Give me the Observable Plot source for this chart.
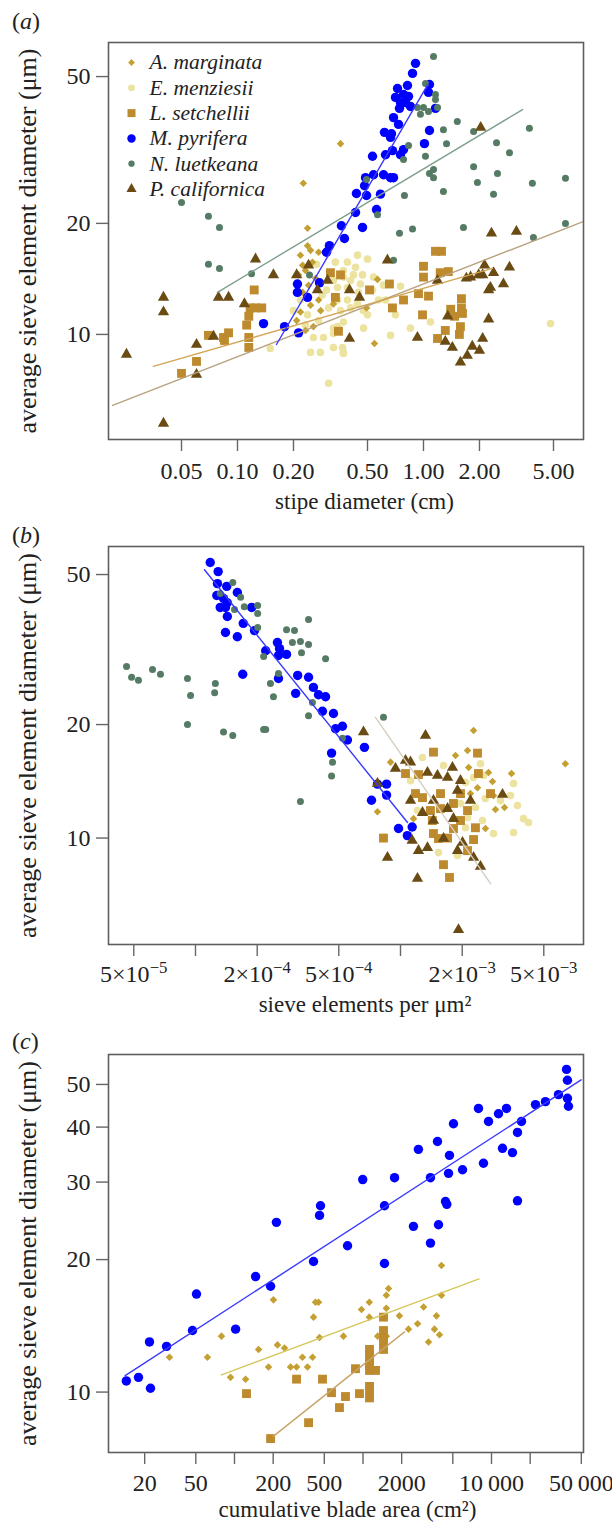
<!DOCTYPE html>
<html><head><meta charset="utf-8">
<script src="https://cdn.jsdelivr.net/npm/d3@7"></script>
<script src="https://cdn.jsdelivr.net/npm/@observablehq/plot@0.6"></script>
<style>
body{margin:0;background:#fff}
#wrap{position:relative;width:612px;height:1523px;font-family:"Liberation Serif","Times New Roman",serif;color:#222}
#wrap svg{position:absolute;left:0}
.plab{position:absolute;left:12px;font-size:24px;line-height:24px;white-space:nowrap}
</style></head><body><div id="wrap"></div>
<script>
// ---------- species ----------
const species = ["A. marginata","E. menziesii","L. setchellii","M. pyrifera","N. luetkeana","P. californica"];
const speciesColor = ["#c4a032","#ece3a0","#bd8a2e","#0000ff","#567b65","#6a4b13"];
const speciesSymbol = ["diamond2","circle","square","circle","circle","triangle"];
const speciesR = [3.4, 3.8, 5.0, 4.7, 3.5, 4.2];

// ---------- panel (a): stipe diameter (cm) vs sieve element diameter (um) ----------
const A_Amarginata = [[0.358,32.9],[0.226,25.7],[0.238,19.4],[0.238,17.4],[0.247,16.9],[0.218,16.4],[0.253,15.7],[0.232,14.9],[0.213,14.5],[0.263,14.2],[0.241,13.6],[0.224,13.0],[0.273,12.4],[0.247,12.0],[0.218,11.5],[0.256,10.5],[0.232,10.25],[0.280,11.6],[0.566,14.1],[0.494,11.8],[0.545,9.45],[0.328,12.1],[0.208,10.9],[0.224,15.4],[0.273,16.7]];
const A_Emenziesii = [[0.336,15.7],[0.390,15.7],[0.442,16.4],[0.371,14.9],[0.420,14.5],[0.328,14.0],[0.390,13.4],[0.458,13.7],[0.345,12.4],[0.309,11.8],[0.358,11.6],[0.405,11.8],[0.256,9.81],[0.290,9.81],[0.328,10.06],[0.247,8.94],[0.279,8.94],[0.328,9.22],[0.371,8.94],[0.150,9.16],[0.20,11.6],[0.238,11.3],[0.309,7.37],[0.50,16.0],[0.431,15.2],[0.470,14.5],[0.539,14.3],[0.610,13.6],[0.752,13.5],[0.371,14.3],[0.405,14.0],[0.345,13.4],[0.390,12.4],[0.442,12.1],[0.476,11.6],[0.50,11.3],[0.573,12.4],[0.345,10.5],[0.371,10.8],[0.328,10.4],[0.476,10.4],[0.665,9.94],[0.851,10.4],[1.09,10.8],[0.367,9.22],[0.371,8.88],[4.82,10.7],[0.266,15.5],[0.286,12.8],[0.218,12.4],[0.273,10.9],[0.301,13.2],[0.447,13.0],[0.532,13.2],[0.625,12.4],[0.707,11.3],[0.232,10.6]];
const A_Lsetchellii = [[0.050,7.84],[0.0602,8.45],[0.0698,9.94],[0.0841,9.81],[0.0895,10.1],[0.0851,9.63],[0.115,9.81],[0.115,9.22],[0.112,10.6],[0.115,11.2],[0.117,11.8],[0.125,11.8],[0.135,11.8],[0.123,13.2],[0.316,14.7],[0.358,14.5],[0.336,12.6],[0.349,10.2],[0.513,13.2],[0.656,13.7],[0.781,12.4],[0.681,11.8],[1.0,15.3],[1.0,14.3],[0.94,12.9],[1.064,12.7],[0.988,11.3],[1.16,16.8],[1.25,16.8],[1.23,14.7],[1.36,14.8],[1.60,12.5],[1.60,11.8],[1.40,11.7],[1.47,11.2],[1.62,11.4],[1.58,10.5],[1.31,10.25],[1.56,10.0],[1.19,9.75]];
const A_Mpyrifera = [[0.906,54.3],[0.873,51.0],[0.725,46.4],[0.820,47.3],[1.077,47.6],[1.064,45.3],[0.707,43.9],[0.781,44.7],[0.831,44.2],[0.752,42.5],[0.800,42.5],[0.851,41.5],[0.743,41.0],[1.16,41.0],[0.690,38.7],[0.734,37.1],[0.617,35.3],[0.673,35.0],[0.665,34.2],[1.077,35.7],[1.012,32.9],[0.532,30.4],[0.625,30.7],[0.681,31.5],[0.752,30.7],[0.781,31.7],[0.488,26.6],[0.539,27.1],[0.610,27.1],[0.665,26.6],[0.690,26.6],[0.482,25.3],[0.436,24.1],[0.494,23.8],[0.587,24.0],[0.559,21.8],[0.431,21.4],[0.362,19.7],[0.470,19.5],[0.376,18.2],[0.312,17.4],[0.301,16.7],[0.210,13.7],[0.210,13.0],[0.238,12.6],[0.276,13.8],[0.138,10.7],[0.179,10.5],[0.213,10.1]];
const A_Nluetkeana = [[1.132,56.7],[1.025,47.9],[1.160,44.7],[1.160,43.3],[0.928,41.2],[1.0,41.2],[1.064,40.2],[1.19,41.2],[0.963,39.5],[1.52,37.8],[1.28,35.9],[1.86,35.5],[1.33,32.9],[2.47,33.1],[2.90,31.1],[3.71,36.2],[0.831,32.5],[0.781,29.8],[1.025,30.4],[1.86,28.5],[2.50,27.3],[3.85,25.7],[5.80,26.5],[1.132,28.0],[1.077,27.3],[1.132,26.6],[1.95,25.8],[1.28,24.4],[2.38,24.0],[0.79,23.8],[0.566,21.1],[0.494,26.3],[5.80,20.0],[0.873,19.3],[1.64,19.5],[0.743,18.8],[3.90,18.3],[0.690,15.9],[0.050,22.8],[0.0698,20.9],[0.080,19.5],[0.0698,15.5],[0.080,15.1],[0.119,14.6],[0.244,14.5]];
const A_Pcalifornica = [[0.0253,8.83],[0.040,12.6],[0.040,11.5],[0.040,5.74],[0.0602,9.39],[0.0602,7.79],[0.0743,9.88],[0.079,12.6],[0.0895,12.6],[0.109,12.1],[0.125,16.0],[0.156,14.5],[0.208,14.5],[0.241,15.4],[0.269,13.2],[0.305,14.0],[0.400,13.2],[0.453,12.6],[0.400,9.75],[0.640,15.9],[0.928,9.81],[1.19,14.0],[1.35,11.2],[1.31,9.57],[1.43,9.22],[1.58,8.40],[1.72,8.77],[1.83,9.28],[2.0,9.05],[2.08,9.75],[2.24,11.0],[1.70,14.2],[1.79,14.3],[1.98,14.5],[2.08,14.5],[2.13,15.4],[2.38,14.7],[2.24,13.2],[2.29,13.4],[2.69,13.7],[2.90,15.2],[2.32,18.8],[3.16,19.0],[2.03,36.4]];
const A_fitMpyrifera = [[0.162,9.39],[1.064,47.9]];
const A_fitNluetkeana = [[0.078,13.0],[3.41,40.7]];
const A_fitLsetchellii = [[0.0353,8.19],[2.35,15.1]];
const A_fitPcalifornica = [[0.0213,6.42],[7.16,20.2]];
const A_xTicks = [0.05,0.1,0.2,0.5,1,2,5];
const A_xTickLabels = ["0.05","0.10","0.20","0.50","1.00","2.00","5.00"];
const A_yTicks = [10,20,50];

// ---------- panel (b): sieve elements per um^2 ----------
const B_Amarginata = [[2.272e-3,19.3],[2.123e-3,17.06],[1.855e-3,16.55],[0.894e-3,15.9],[2.15e-3,15.38],[2.686e-3,14.93],[3.48e-3,14.83],[2.81e-3,14.12],[2.375e-3,13.6],[2.842e-3,12.96],[2.194e-3,13.12],[2.906e-3,11.9],[3.216e-3,12.05],[2.596e-3,10.6],[0.772e-3,11.75],[6.37e-3,15.75],[1.157e-3,11.26]];
const B_Emenziesii = [[1.28e-3,16.35],[1.621e-3,15.57],[2.456e-3,15.75],[2.54e-3,14.65],[2.076e-3,14.05],[2.272e-3,14.47],[3.56e-3,13.95],[3.44e-3,12.96],[3.72e-3,12.2],[2.596e-3,12.73],[3.075e-3,12.57],[2.32e-3,12.05],[2.123e-3,11.33],[2.51e-3,11.13],[2.842e-3,10.28],[3.56e-3,10.34],[3.98e-3,11.26],[4.21e-3,10.99],[2.076e-3,10.65],[1.532e-3,9.15],[1.897e-3,8.99],[1.21e-3,11.83],[1.119e-3,14.2],[1.962e-3,12.35]];
const B_Lsetchellii = [[1.448e-3,16.9],[2.375e-3,16.8],[1.058e-3,14.83],[1.224e-3,14.74],[2.40e-3,14.83],[1.183e-3,13.12],[1.28e-3,12.8],[1.567e-3,13.12],[1.962e-3,13.12],[2.748e-3,13.12],[1.40e-3,11.83],[1.567e-3,11.97],[1.813e-3,12.35],[2.123e-3,11.83],[1.962e-3,11.13],[2.32e-3,10.65],[1.813e-3,10.6],[1.448e-3,10.28],[1.532e-3,9.97],[1.696e-3,10.0],[2.272e-3,9.91],[0.826e-3,10.0],[1.621e-3,8.50],[1.734e-3,7.86],[2.123e-3,9.26],[1.43e-3,11.13]];
const B_Mpyrifera = [[1.18e-4,53.8],[1.29e-4,50.9],[1.28e-4,47.3],[1.42e-4,46.5],[1.60e-4,44.8],[1.27e-4,44.0],[1.37e-4,43.2],[1.43e-4,42.1],[1.32e-4,40.9],[1.40e-4,40.9],[1.88e-4,40.9],[1.43e-4,38.7],[1.71e-4,37.1],[1.94e-4,35.5],[1.40e-4,35.1],[1.60e-4,34.2],[2.51e-4,33.0],[2.20e-4,31.4],[2.57e-4,31.8],[2.78e-4,30.7],[2.54e-4,30.5],[1.70e-4,27.2],[2.54e-4,26.5],[3.15e-4,27.0],[3.56e-4,26.7],[3.76e-4,25.1],[3.08e-4,24.2],[3.98e-4,24.0],[4.31e-4,23.7],[4.16e-4,21.7],[4.71e-4,21.4],[5.21e-4,19.8],[4.82e-4,19.5],[5.51e-4,18.2],[4.61e-4,16.8],[6.67e-4,17.4],[7.72e-4,13.9],[8.55e-4,13.9],[7.22e-4,12.6],[8.55e-4,13.0],[9.78e-4,10.6],[1.14e-3,10.7],[1.08e-3,10.15]];
const B_Nluetkeana = [[4.61e-5,28.5],[4.88e-5,26.7],[5.27e-5,26.2],[6.17e-5,28.0],[6.75e-5,27.2],[9.14e-5,26.5],[9.46e-5,23.9],[1.25e-4,25.7],[1.24e-4,24.3],[9.14e-5,20.0],[1.37e-4,19.1],[1.52e-4,18.7],[2.15e-4,19.4],[2.20e-4,19.4],[1.52e-4,47.6],[1.32e-4,44.5],[1.66e-4,43.5],[1.55e-4,40.4],[1.73e-4,41.1],[2.01e-4,41.4],[2.01e-4,39.4],[2.01e-4,36.2],[2.78e-4,35.7],[3.04e-4,35.5],[2.97e-4,33.0],[3.25e-4,33.2],[3.56e-4,32.6],[3.29e-4,31.0],[3.56e-4,38.0],[4.31e-4,29.9],[2.15e-4,30.3],[2.54e-4,27.3],[2.32e-4,25.7],[2.40e-4,23.7],[3.56e-4,21.1],[3.72e-4,22.9],[5.21e-4,18.4],[4.66e-4,15.9],[4.61e-4,14.6],[3.25e-4,12.5],[8.26e-4,20.9]];
const B_Pcalifornica = [[0.66e-3,19.1],[1.324e-3,18.7],[1.058e-3,16.06],[1.119e-3,15.9],[0.945e-3,15.3],[1.354e-3,14.93],[1.515e-3,14.65],[1.793e-3,15.38],[1.696e-3,14.47],[1.962e-3,14.2],[1.897e-3,13.37],[1.119e-3,12.57],[1.448e-3,12.57],[2.194e-3,12.57],[3.145e-3,13.04],[1.28e-3,11.68],[1.448e-3,11.13],[1.813e-3,11.26],[1.696e-3,11.97],[1.14e-3,9.85],[1.224e-3,9.26],[1.354e-3,9.43],[1.621e-3,9.97],[1.897e-3,9.26],[2.007e-3,9.73],[2.272e-3,8.88],[2.456e-3,8.40],[0.864e-3,8.88],[1.21e-3,7.81],[1.918e-3,5.71],[0.772e-3,13.95]];
const B_fitMpyrifera = [[1.106e-4,51.5],[1.082e-3,11.0]];
const B_fitPcalifornica = [[7.55e-4,20.9],[2.75e-3,7.57]];
const B_xTicks = [5e-5,1e-4,2e-4,5e-4,1e-3,2e-3,5e-3];
const B_xTickLabels = ["5×10^−5","","2×10^−4","5×10^−4","","2×10^−3","5×10^−3"];
const B_yTicks = [10,20,50];

// ---------- panel (c): cumulative blade area (cm^2) ----------
const C_Amarginata = [[4080,19.4],[1580,17.2],[1520,16.6],[4080,16.6],[1120,16.0],[1920,14.9],[973,15.4],[1120,14.8],[1520,15.5],[2960,15.6],[3730,14.9],[2260,13.9],[2660,14.3],[3600,13.9],[3940,13.5],[3235,13.0],[1300,13.4],[1520,13.4],[705,13.4],[459,13.3],[412,14.8],[451,16.0],[427,16.0],[201,16.2],[216,12.8],[154,12.5],[245,12.6],[338,12.0],[273,11.4],[304,11.4],[370,11.4],[405,12.0],[184,11.4],[79.2,13.4],[93.1,10.8],[61.6,12.0],[31.2,12.0],[122,10.7]];
const C_Lsetchellii = [[1444,14.8],[1444,13.8],[1444,13.3],[1444,12.9],[1444,12.5],[1124,12.5],[1124,12.1],[1124,11.8],[1124,11.5],[1124,11.2],[1251,11.2],[874,11.3],[1124,10.3],[1124,10.1],[1124,9.7],[939,9.92],[656,9.22],[731,9.77],[569,9.97],[377,8.52],[484,10.7],[304,10.7],[124,9.92],[191,7.84]];
const C_Mpyrifera = [[38360,54.1],[39000,51.1],[33200,47.4],[39000,46.5],[39720,44.6],[26300,45.7],[22000,45.0],[17120,41.2],[15930,38.9],[14560,35.0],[12180,35.8],[13080,44.1],[11340,42.9],[9480,41.2],[7920,44.1],[8660,33.1],[15930,27.2],[5060,40.7],[5950,32.0],[4710,34.5],[4630,31.4],[3800,37.1],[3350,30.7],[4385,27.1],[4490,26.7],[3870,24.0],[3350,21.8],[2700,35.6],[2470,23.8],[1760,30.7],[1470,26.5],[1470,19.6],[995,30.4],[758,21.5],[467,26.5],[459,25.2],[412,19.8],[212,24.3],[146,18.3],[191,17.4],[50.6,16.7],[47.1,13.8],[102,13.9],[21.8,13.0],[29.6,12.7],[14.4,10.6],[17.9,10.8],[22.2,10.2]];
const C_fitMpyrifera = [[14.1,10.9],[49800,51.2]];
const C_fitAmarginata = [[79.1,10.94],[8007,18.08]];
const C_fitLsetchellii = [[200,7.93],[2107,13.7]];
const C_xTicks = [20,50,100,200,500,1000,2000,5000,10000,20000,50000];
const C_xTickLabels = ["20","50","","200","500","","2000","","10\u2009000","","50\u2009000"];
const C_yTicks = [10,20,30,40,50];

const yTitle = "average sieve element diameter (\u03bcm)";

// ---------- helpers ----------
const FONT = "'Liberation Serif','Times New Roman',serif";
const W = 612, FL = 108, FR = 583;
const TICK_FS = 24;
function pts(arr, si) {
  return Plot.dot(arr, {x: d => d[0], y: d => d[1], symbol: speciesSymbol[si], r: speciesR[si], fill: speciesColor[si], stroke: "none"});
}
function fit(arr, color, w) {
  return Plot.line(arr, {x: d => d[0], y: d => d[1], stroke: color, strokeWidth: w || 1.4});
}
function panel(o) {
  const marks = [];
  o.points.forEach(([arr, si]) => marks.push(pts(arr, si)));
  o.fits.forEach(f => marks.push(f));
  marks.push(Plot.frame({stroke: "#5e5e5e", strokeWidth: 1.6}));
  marks.push(Plot.axisY({ticks: o.yTicks, tickFormat: d => String(d), tickSize: 12, tickPadding: 6, fontSize: TICK_FS, stroke: "#666", strokeWidth: 1.4, fill: "#222", label: null}));
  marks.push(Plot.tickX(o.xTicks, {x: d => d, frameAnchor: "bottom", y1: null, y2: null, dy: 0, stroke: "#666", strokeWidth: 1.4, insetTop: 0}));
  // x tick labels
  marks.push(Plot.text(o.xTicks, {x: d => d, text: (d, i) => o.xLabels[i], frameAnchor: "bottom", dy: 12 + o.xPad, lineAnchor: "top", textAnchor: "middle", fontSize: TICK_FS, fill: "#222"}));
  marks.push(Plot.text([yTitle], {frameAnchor: "left", dx: -81, rotate: -90, textAnchor: "middle", lineAnchor: "middle", fontSize: 26, fill: "#222"}));
  marks.push(Plot.text([o.xTitle], {frameAnchor: "bottom", dx: o.xTitleDx, dy: o.xTitleDy, textAnchor: "middle", lineAnchor: "middle", fontSize: 23, fill: "#222"}));
  if (o.extra) o.extra.forEach(m => marks.push(m));
  const svg = Plot.plot({
    width: W, height: o.height,
    marginLeft: FL, marginRight: W - FR, marginTop: o.mt, marginBottom: o.mb,
    x: {type: "log", domain: o.xDomain, axis: null},
    y: {type: "log", domain: o.yDomain},
    style: {fontFamily: FONT, background: "transparent", overflow: "visible"},
    marks
  });
  svg.style.top = o.top + "px";
  // the x tick marks: replace tickX (full height) by short outward ticks
  d3.select(svg).selectAll('g[aria-label="tick"] line').each(function() {
    const l = d3.select(this);
    const yb = o.height - o.mb;
    l.attr("y1", yb).attr("y2", yb + 12);
  });
  // superscripts in tick labels like 5×10^−5
  d3.select(svg).selectAll("text").each(function() {
    const t = this.textContent;
    if (t.includes("^")) {
      const [base, exp] = t.split("^");
      const sel = d3.select(this);
      sel.selectAll("*").remove();
      sel.text(null);
      sel.append("tspan").text(base);
      sel.append("tspan").attr("dy", "-0.48em").attr("font-size", "0.7em").text(exp);
    }
  });
  return svg;
}

// legend (inside panel a)
const legendMarks = [];
species.forEach((name, i) => {
  const dy = 20 + i * 25.3;
  legendMarks.push(Plot.dot([name], {frameAnchor: "top-left", dx: 23, dy, symbol: speciesSymbol[i], r: speciesR[i] * 0.9, fill: speciesColor[i]}));
  legendMarks.push(Plot.text([name], {frameAnchor: "top-left", dx: 41, dy, textAnchor: "start", lineAnchor: "middle", fontStyle: "italic", fontSize: 21.5, fill: "#222"}));
});

const wrap = document.getElementById("wrap");

wrap.appendChild(panel({
  top: 0, height: 520, mt: 42, mb: 81,
  xDomain: [0.02025, 7.25], yDomain: [5.19, 61.85],
  xTicks: A_xTicks, xLabels: A_xTickLabels, yTicks: A_yTicks, xPad: 10,
  xTitle: "stipe diameter (cm)", xTitleDx: 18.5, xTitleDy: 62,
  points: [[A_Emenziesii,1],[A_Amarginata,0],[A_Lsetchellii,2],[A_Mpyrifera,3],[A_Nluetkeana,4],[A_Pcalifornica,5]],
  fits: [fit(A_fitPcalifornica, "#b8a27f"), fit(A_fitLsetchellii, "#d2a556"), fit(A_fitNluetkeana, "#7c9f8b"), fit(A_fitMpyrifera, "#3a3aff")],
  extra: legendMarks
}));

wrap.appendChild(panel({
  top: 520, height: 510, mt: 26, mb: 86,
  xDomain: [3.764e-5, 7.81e-3], yDomain: [5.22, 59.34],
  xTicks: B_xTicks, xLabels: B_xTickLabels, yTicks: B_yTicks, xPad: 8,
  xTitle: "sieve elements per \u03bcm\u00b2", xTitleDx: 19, xTitleDy: 60,
  points: [[B_Emenziesii,1],[B_Amarginata,0],[B_Lsetchellii,2],[B_Mpyrifera,3],[B_Nluetkeana,4],[B_Pcalifornica,5]],
  fits: [fit(B_fitPcalifornica, "#d6cec0"), fit(B_fitMpyrifera, "#3a3aff")]
}));

wrap.appendChild(panel({
  top: 1030, height: 493, mt: 24, mb: 71,
  xDomain: [10.46, 52000], yDomain: [7.29, 58.48],
  xTicks: C_xTicks, xLabels: C_xTickLabels, yTicks: C_yTicks, xPad: 9,
  xTitle: "cumulative blade area (cm\u00b2)", xTitleDx: 1.5, xTitleDy: 57,
  points: [[C_Amarginata,0],[C_Lsetchellii,2],[C_Mpyrifera,3]],
  fits: [fit(C_fitAmarginata, "#d6c75a"), fit(C_fitLsetchellii, "#c9a469"), fit(C_fitMpyrifera, "#3a3aff")]
}));

// panel letters
[["a", 9.2], ["b", 523.2], ["c", 1029.2]].forEach(([l, top]) => {
  const d = document.createElement("div");
  d.className = "plab";
  d.style.top = top + "px";
  d.innerHTML = "(<i>" + l + "</i>)";
  wrap.appendChild(d);
});
</script></body></html>
